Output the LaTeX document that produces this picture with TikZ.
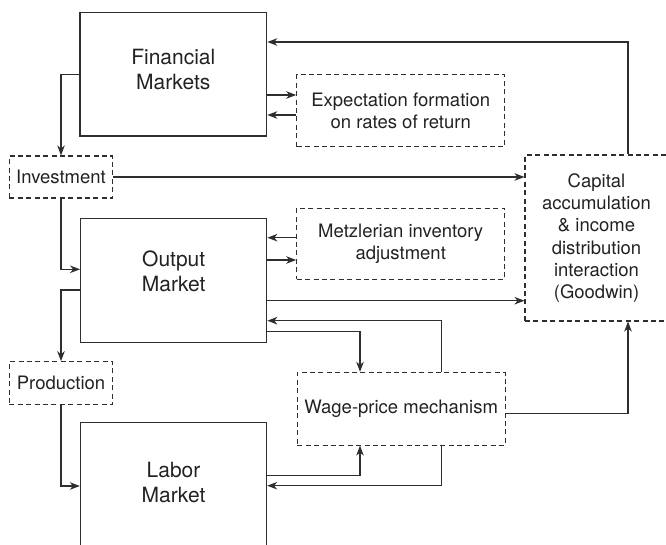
\documentclass[tikz,border=0pt]{standalone}
\usepackage{fontspec}
\setmainfont{TeX Gyre Heros}
\usetikzlibrary{arrows.meta}
\definecolor{ink}{HTML}{2E2E2E}
\definecolor{txt}{HTML}{222222}
\tikzset{
  market/.style={draw=ink, line width=1.3pt, rectangle, inner sep=0pt},
  process/.style={draw=ink, line width=1.05pt, dash pattern=on 5pt off 3.4pt,
                  rectangle, inner sep=0pt, align=center, text=txt,
                  font=\fontsize{18.5}{22.3}\selectfont},
  bigtext/.style={align=center, inner sep=0pt, text=txt,
                  font=\fontsize{21}{25}\selectfont},
  link/.style={draw=ink, line width=1.2pt},
  arr/.style={link, -{Stealth[length=10pt,width=7.5pt,inset=3pt]}}
}
\begin{document}
\begin{tikzpicture}[x=1pt,y=-1pt]
\useasboundingbox (0,0) rectangle (666,545);
\clip (0,0) rectangle (666,545);

% market blocks
\node[market, minimum width=186.7pt, minimum height=123.7pt] (fm) at (173.3,74.2) {};
\node[market, minimum width=186pt, minimum height=124.4pt] (out) at (173.7,280.5) {};
\node[market, minimum width=186pt, minimum height=137.3pt] (lab) at (173.5,491.35) {};
\node[bigtext] (fmtxt) at (173.3,69.3) {Financial\\Markets};
\node[bigtext] (outtxt) at (173.7,271.7) {Output\\Market};
\node[bigtext] (labtxt) at (173.5,482.2) {Labor\\Market};

% dashed process blocks
\node[process, minimum width=208pt, minimum height=71.7pt] (exp) at (400.7,110.8)
  {Expectation formation\\on rates of return};
\node[process, minimum width=208pt, minimum height=71pt] (metz) at (400.7,243.8)
  {Metzlerian inventory\\adjustment};
\node[process, minimum width=207.7pt, minimum height=72.7pt] (wage) at (401.2,408.7)
  {Wage-price mechanism};
\node[process, minimum width=103.4pt, minimum height=42pt] (inv) at (61,177)
  {Investment};
\node[process, minimum width=103.4pt, minimum height=42.6pt] (prod) at (61,383)
  {Production};
\node[process, minimum width=143pt, minimum height=166pt] (cap) at (596.5,238)
  {Capital\\accumulation\\\& income\\distribution\\interaction\\(Goodwin)};

% financial market loop
\draw[arr] ([xshift=31.5pt]cap.north) |- ([yshift=32.2pt]fm.east);
\draw[arr] ([yshift=-20.8pt]fm.east) -- ([yshift=15.8pt]exp.west);
\draw[arr] ([yshift=-4.2pt]exp.west) -- ([yshift=-40.8pt]fm.east);
\draw[arr] (fm.west) -| (inv.north);
\draw[arr] (inv.east) -- (inv.east -| cap.west);
\draw[arr] (inv.south) |- ([yshift=11.2pt]out.west);

% output market links
\draw[arr] ([yshift=6.1pt]metz.west) -- ([yshift=42.8pt]out.east);
\draw[arr] ([yshift=20.5pt]out.east) -- ([yshift=-16.2pt]metz.west);
\draw[arr] ([yshift=-9.5pt]out.west) -| (prod.north);
\draw[arr] ([yshift=-20.2pt]out.east) -- ([yshift=-62.7pt]cap.west);
\draw[arr] ([xshift=40.5pt]wage.north) |- ([yshift=-40.2pt]out.east);
\draw[arr] ([yshift=-51.2pt]out.east) -| ([xshift=-41.2pt]wage.north);

% wage-price and labor market links
\draw[arr] ([yshift=-4.6pt]wage.east) -| ([xshift=31.5pt]cap.south);
\draw[arr] ([yshift=15.65pt]lab.east) -| ([xshift=-41.2pt]wage.south);
\draw[arr] ([xshift=40.5pt]wage.south) |- ([yshift=5.65pt]lab.east);
\draw[arr] (prod.south) |- ([yshift=5.35pt]lab.west);
\end{tikzpicture}
\end{document}
